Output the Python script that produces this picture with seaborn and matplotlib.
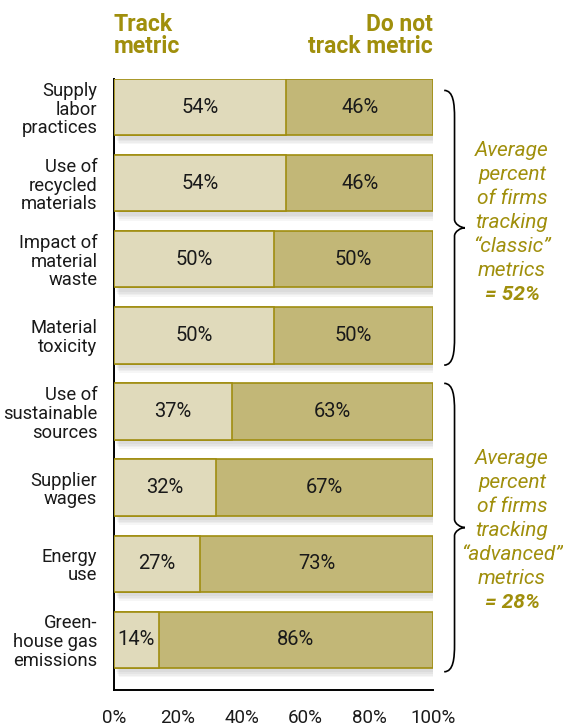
import numpy as np
import pandas as pd
import seaborn as sns
import matplotlib.pyplot as plt
from matplotlib.path import Path
from matplotlib.patches import PathPatch, Rectangle

metrics = ["Supply\nlabor\npractices", "Use of\nrecycled\nmaterials", "Impact of\nmaterial\nwaste",
           "Material\ntoxicity", "Use of\nsustainable\nsources", "Supplier\nwages",
           "Energy\nuse", "Green-\nhouse gas\nemissions"]
track = [54, 54, 50, 50, 37, 32, 27, 14]
not_track = [46, 46, 50, 50, 63, 67, 73, 86]
x_ticks = [0, 20, 40, 60, 80, 100]
classic_avg = 52
advanced_avg = 28

light = "#e0dabb"
dark = "#c2b777"
edge = "#a08d10"
gold = "#a08f0c"
ink = "#1a1a1a"

sns.set_theme(style="white")
plt.rcParams['font.family'] = ['Roboto', 'DejaVu Sans']

df = pd.DataFrame({"metric": metrics, "track": track, "not_track": not_track})
df["full"] = 100

fig = plt.figure(figsize=(5.63, 7.28), dpi=100)
ax = fig.add_axes([114 / 563, 1 - 690 / 728, 319 / 563, 611 / 728])

# soft shadow behind bars
for i in range(len(metrics)):
    for k in range(4):
        ax.add_patch(Rectangle((0.6 + k * 0.35, i - 0.37 + 0.06 + k * 0.02), 100, 0.74,
                               facecolor="#000000", alpha=0.035, edgecolor="none", zorder=0.5))

sns.barplot(data=df, x="full", y="metric", orient="h", color=dark, edgecolor=edge,
            linewidth=1.2, width=0.74, saturation=1, ax=ax, zorder=2)
sns.barplot(data=df, x="track", y="metric", orient="h", color=light, edgecolor=edge,
            linewidth=1.2, width=0.74, saturation=1, ax=ax, zorder=3)

for i in range(len(metrics)):
    ax.text(track[i] / 2, i, f"{track[i]}%", ha="center", va="center", fontsize=14.5,
            color=ink, zorder=5)
    ax.text(track[i] + (100 - track[i]) / 2, i, f"{not_track[i]}%", ha="center", va="center",
            fontsize=14.5, color=ink, zorder=5)

ax.set_xlim(0, 100)
ax.set_ylim(7.66, -0.37)
ax.set_xticks(x_ticks)
ax.set_xticklabels([f"{t}%" for t in x_ticks], fontsize=13.5, color=ink)
ax.set_yticks(range(len(metrics)))
ax.set_yticklabels(metrics, fontsize=13.2, linespacing=1.05, color=ink)
ax.set_xlabel("")
ax.set_ylabel("")
ax.tick_params(axis="x", direction="out", length=6, width=1.2, color="black", pad=8)
ax.tick_params(axis="y", length=0, pad=12)
for s in ["top", "right"]:
    ax.spines[s].set_visible(False)
for s in ["left", "bottom"]:
    ax.spines[s].set_color("black")
    ax.spines[s].set_linewidth(1.4)


def brace(ax, x0, w, y0, y1):
    ym = (y0 + y1) / 2
    c = 0.18
    verts = [(x0, y0),
             (x0 + w * 0.45, y0), (x0 + w * 0.5, y0 + c), (x0 + w * 0.5, y0 + c * 2),
             (x0 + w * 0.5, ym - c * 0.6),
             (x0 + w * 0.5, ym - 0.05), (x0 + w * 0.8, ym), (x0 + w, ym),
             (x0 + w * 0.8, ym), (x0 + w * 0.5, ym + 0.05), (x0 + w * 0.5, ym + c * 0.6),
             (x0 + w * 0.5, y1 - c * 2),
             (x0 + w * 0.5, y1 - c), (x0 + w * 0.45, y1), (x0, y1)]
    codes = [Path.MOVETO, Path.CURVE4, Path.CURVE4, Path.CURVE4, Path.LINETO,
             Path.CURVE4, Path.CURVE4, Path.CURVE4,
             Path.CURVE4, Path.CURVE4, Path.CURVE4, Path.LINETO,
             Path.CURVE4, Path.CURVE4, Path.CURVE4]
    ax.add_patch(PathPatch(Path(verts, codes), facecolor="none", edgecolor="black",
                           linewidth=1.2, clip_on=False, zorder=4))


brace(ax, 103.5, 6.5, -0.22, 3.39)
brace(ax, 103.5, 6.5, 3.63, 7.42)

for yc, word, avg in [(1.52, "\u201cclassic\u201d", classic_avg), (5.56, "\u201cadvanced\u201d", advanced_avg)]:
    lines = ["Average", "percent", "of firms", "tracking", word, "metrics"]
    step = 0.315
    start = yc - step * 3
    for j, ln in enumerate(lines):
        ax.text(124.8, start + j * step, ln, ha="center", va="center", fontsize=15,
                style="italic", color=gold, clip_on=False)
    ax.text(124.8, start + 6 * step, f"= {avg}%", ha="center", va="center", fontsize=15,
            style="italic", fontweight="bold", color=gold, clip_on=False)

fig.text(114 / 563, 1 - 13 / 728, "Track\nmetric", ha="left", va="top", fontsize=16.5,
         fontweight="bold", color=gold, linespacing=0.92)
fig.text(433 / 563, 1 - 13 / 728, "Do not\ntrack metric", ha="right", va="top", fontsize=16.5,
         fontweight="bold", color=gold, linespacing=0.92, multialignment="right")

fig.savefig("out.png", dpi=100)
